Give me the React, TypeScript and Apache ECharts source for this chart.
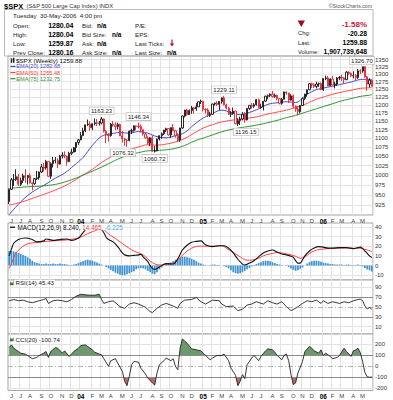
import React, { useEffect, useRef } from 'react';
import * as echarts from 'echarts';

const DAY = 86400000;
const weeks: string[] = [];
for (let i = 0; i < 157; i++) weeks.push(new Date(Date.UTC(2003, 4, 30) + i * 7 * DAY).toISOString().slice(0, 10));
weeks.push('2006-05-30');

// weekly [open, close, low, high]
const ohlc: number[][] = [
  [933.2, 963.6, 927.4, 965.4], [963.6, 987.8, 962.0, 992.6], [987.8, 988.6, 972.0, 1002.7], [988.6, 995.7, 985.0, 1015.3], [995.7, 976.2, 972.0, 1002.5],
  [976.2, 985.7, 972.0, 993.2], [985.7, 998.1, 979.6, 1003.5], [998.1, 993.3, 980.0, 1015.4], [993.3, 998.7, 975.6, 1000.5], [998.7, 980.2, 978.0, 1004.7],
  [980.2, 977.6, 960.8, 980.6], [977.6, 990.7, 975.0, 992.5], [990.7, 993.1, 987.0, 1011.0], [993.1, 1008.0, 987.9, 1009.0], [1008.0, 1021.4, 1005.0, 1029.3],
  [1021.4, 1018.6, 1009.0, 1032.4], [1018.6, 1036.3, 1014.0, 1040.3], [1036.3, 996.9, 995.0, 1036.3], [996.9, 1029.9, 990.4, 1033.8], [1029.9, 1038.7, 1020.0, 1048.3],
  [1038.7, 1039.3, 1031.0, 1048.0], [1039.3, 1028.9, 1018.3, 1044.0], [1028.9, 1050.7, 1028.0, 1054.0], [1050.7, 1053.2, 1044.0, 1061.4], [1053.2, 1050.4, 1045.0, 1063.6],
  [1050.4, 1035.3, 1025.0, 1051.0], [1035.3, 1058.2, 1035.0, 1062.4], [1058.2, 1061.5, 1053.0, 1071.0], [1061.5, 1074.1, 1060.6, 1075.0], [1074.1, 1088.7, 1062.0, 1089.0],
  [1088.7, 1095.9, 1082.0, 1098.5], [1095.9, 1108.5, 1095.0, 1118.8], [1108.5, 1121.9, 1106.0, 1131.0], [1121.9, 1139.8, 1118.0, 1140.0], [1139.8, 1141.6, 1136.0, 1155.4],
  [1141.6, 1131.1, 1122.4, 1150.0], [1131.1, 1142.8, 1124.0, 1143.8], [1142.8, 1145.8, 1138.0, 1158.9], [1145.8, 1144.1, 1136.0, 1157.0], [1144.1, 1144.9, 1137.0, 1151.0],
  [1144.9, 1156.9, 1141.0, 1163.2], [1156.9, 1120.6, 1117.0, 1159.0], [1120.6, 1109.8, 1087.2, 1125.0], [1109.8, 1108.1, 1091.0, 1115.0], [1108.1, 1141.8, 1105.0, 1144.8],
  [1141.8, 1139.3, 1134.0, 1150.6], [1139.3, 1134.6, 1124.0, 1147.0], [1134.6, 1140.6, 1126.0, 1146.0], [1140.6, 1107.3, 1107.0, 1143.0], [1107.3, 1098.7, 1088.0, 1121.0],
  [1098.7, 1095.7, 1079.0, 1102.0], [1095.7, 1093.6, 1076.3, 1098.0], [1093.6, 1120.7, 1092.0, 1123.0], [1120.7, 1122.5, 1113.0, 1128.0], [1122.5, 1136.5, 1120.0, 1138.0],
  [1136.5, 1135.0, 1124.0, 1138.0], [1135.0, 1134.4, 1129.0, 1146.3], [1134.4, 1125.4, 1117.0, 1141.0], [1125.4, 1112.8, 1108.0, 1126.0], [1112.8, 1101.4, 1100.0, 1118.0],
  [1101.4, 1086.2, 1083.0, 1106.0], [1086.2, 1101.7, 1078.0, 1104.0], [1101.7, 1064.0, 1062.0, 1108.0], [1064.0, 1064.8, 1060.7, 1079.0], [1064.8, 1098.4, 1064.0, 1099.0],
  [1098.4, 1107.8, 1094.0, 1109.0], [1107.8, 1113.6, 1099.0, 1117.0], [1113.6, 1123.9, 1110.0, 1125.0], [1123.9, 1128.6, 1118.0, 1131.0], [1128.6, 1110.1, 1108.0, 1129.0],
  [1110.1, 1131.5, 1102.0, 1132.0], [1131.5, 1122.1, 1120.0, 1142.0], [1122.1, 1108.2, 1102.0, 1125.0], [1108.2, 1095.7, 1090.0, 1115.0], [1095.7, 1130.2, 1090.0, 1131.0],
  [1130.2, 1166.2, 1128.0, 1167.0], [1166.2, 1184.2, 1162.0, 1185.0], [1184.2, 1170.3, 1167.0, 1188.0], [1170.3, 1182.7, 1169.0, 1186.0], [1182.7, 1191.2, 1173.0, 1197.0],
  [1191.2, 1188.0, 1173.0, 1194.0], [1188.0, 1194.2, 1182.0, 1206.0], [1194.2, 1210.1, 1194.0, 1211.0], [1210.1, 1211.9, 1203.0, 1217.0], [1211.9, 1186.2, 1180.0, 1212.0],
  [1186.2, 1184.5, 1173.0, 1190.0], [1184.5, 1167.9, 1163.0, 1190.0], [1167.9, 1171.4, 1163.0, 1179.0], [1171.4, 1203.0, 1170.0, 1204.0], [1203.0, 1205.3, 1198.0, 1208.0],
  [1205.3, 1201.6, 1197.0, 1212.0], [1201.6, 1211.4, 1184.0, 1212.0], [1211.4, 1222.1, 1204.0, 1224.0], [1222.1, 1200.1, 1199.0, 1229.1], [1200.1, 1190.2, 1186.0, 1204.0],
  [1190.2, 1171.4, 1169.0, 1194.0], [1171.4, 1172.9, 1163.0, 1181.0], [1172.9, 1181.2, 1170.0, 1192.0], [1181.2, 1142.6, 1141.0, 1182.0], [1142.6, 1152.1, 1136.2, 1159.0],
  [1152.1, 1156.9, 1139.0, 1164.0], [1156.9, 1171.4, 1153.0, 1178.0], [1171.4, 1154.1, 1146.0, 1178.0], [1154.1, 1189.3, 1153.0, 1191.0], [1189.3, 1198.8, 1185.0, 1199.0],
  [1198.8, 1196.0, 1188.0, 1206.0], [1196.0, 1200.9, 1191.0, 1206.0], [1200.9, 1217.0, 1198.0, 1219.0], [1217.0, 1191.6, 1191.0, 1220.0], [1191.6, 1194.4, 1188.0, 1204.0],
  [1194.4, 1211.9, 1183.0, 1212.0], [1211.9, 1227.9, 1210.0, 1229.0], [1227.9, 1229.4, 1218.0, 1233.0], [1229.4, 1234.2, 1225.0, 1237.0], [1234.2, 1226.4, 1223.0, 1245.0],
  [1226.4, 1230.4, 1223.0, 1236.0], [1230.4, 1219.7, 1215.0, 1233.0], [1219.7, 1205.1, 1202.0, 1222.0], [1205.1, 1218.0, 1201.0, 1222.0], [1218.0, 1241.5, 1217.0, 1242.0],
  [1241.5, 1237.9, 1232.0, 1243.0], [1237.9, 1215.3, 1206.0, 1238.0], [1215.3, 1228.8, 1214.0, 1234.0], [1228.8, 1195.9, 1191.0, 1233.0], [1195.9, 1186.6, 1179.0, 1198.0],
  [1186.6, 1179.6, 1168.0, 1197.0], [1179.6, 1198.4, 1174.0, 1200.0], [1198.4, 1220.1, 1198.0, 1224.0], [1220.1, 1234.7, 1215.0, 1235.0], [1234.7, 1248.3, 1226.0, 1249.0],
  [1248.3, 1268.3, 1248.0, 1270.0], [1268.3, 1265.1, 1255.0, 1272.0], [1265.1, 1259.4, 1254.0, 1270.0], [1259.4, 1267.3, 1253.0, 1275.0], [1267.3, 1268.7, 1258.0, 1272.0],
  [1268.7, 1248.3, 1248.0, 1273.0], [1248.3, 1285.5, 1245.0, 1286.0], [1285.5, 1287.6, 1280.0, 1295.0], [1287.6, 1261.5, 1261.0, 1294.0], [1261.5, 1283.7, 1261.0, 1286.0],
  [1283.7, 1264.0, 1262.0, 1294.0], [1264.0, 1267.0, 1253.0, 1275.0], [1267.0, 1287.2, 1261.0, 1290.0], [1287.2, 1289.4, 1280.0, 1294.0], [1289.4, 1287.2, 1278.0, 1298.0],
  [1287.2, 1281.4, 1268.0, 1290.0], [1281.4, 1307.3, 1281.0, 1310.0], [1307.3, 1303.0, 1298.0, 1310.0], [1303.0, 1294.8, 1291.0, 1306.0], [1294.8, 1295.5, 1286.0, 1310.0],
  [1295.5, 1289.1, 1280.0, 1301.0], [1289.1, 1311.3, 1284.0, 1318.0], [1311.3, 1310.6, 1301.0, 1317.0], [1310.6, 1325.8, 1305.0, 1326.1], [1325.8, 1291.2, 1288.0, 1326.7],
  [1291.2, 1267.0, 1245.0, 1294.0], [1267.0, 1280.2, 1256.0, 1286.0], [1280.04, 1259.88, 1259.87, 1280.04],
];

// EMA readings [week index, value]
const ema20: number[][] = [[0, 902], [4, 927], [8, 948], [12, 964], [16, 977], [20, 992], [24, 1005], [28, 1025], [32, 1047], [36, 1080], [40, 1106], [44, 1113], [48, 1117], [52, 1115], [56, 1120], [60, 1115], [64, 1105], [68, 1102], [72, 1108], [76, 1117], [80, 1140], [84, 1160], [88, 1174], [92, 1184], [96, 1177], [100, 1170], [104, 1177], [108, 1188], [112, 1202], [116, 1207], [120, 1210], [124, 1208], [128, 1228], [132, 1246], [136, 1254], [140, 1260], [144, 1267], [148, 1274], [152, 1282], [156, 1283], [157, 1282.68]];
const ema50: number[][] = [[0, 925], [4, 930], [8, 937], [12, 945], [16, 953], [20, 962], [24, 972], [28, 985], [32, 1000], [36, 1015], [40, 1033], [44, 1048], [48, 1060], [52, 1068], [56, 1076], [60, 1082], [64, 1081], [68, 1084], [72, 1090], [76, 1100], [80, 1115], [84, 1130], [88, 1140], [92, 1148], [96, 1153], [100, 1157], [104, 1160], [108, 1165], [112, 1172], [116, 1178], [120, 1184], [124, 1192], [128, 1202], [132, 1215], [136, 1225], [140, 1234], [144, 1241], [148, 1247], [152, 1253], [156, 1255], [157, 1255.48]];
const ema75: number[][] = [[0, 966], [4, 968], [8, 970], [12, 971], [16, 973], [20, 976], [24, 982], [28, 990], [32, 1000], [36, 1010], [40, 1021], [44, 1033], [48, 1045], [52, 1054], [56, 1060], [60, 1065], [64, 1066], [68, 1068], [72, 1072], [76, 1080], [80, 1092], [84, 1101], [88, 1110], [92, 1119], [96, 1126], [100, 1131], [104, 1135], [108, 1140], [112, 1146], [116, 1153], [120, 1161], [124, 1168], [128, 1177], [132, 1186], [136, 1195], [140, 1204], [144, 1213], [148, 1220], [152, 1227], [156, 1231], [157, 1232.75]];

const extremes: [number, number, string][] = [
  [40, 1163.23, 'high'], [51, 1076.32, 'low'], [56, 1146.34, 'high'], [63, 1060.72, 'low'],
  [93, 1229.11, 'high'], [99, 1136.15, 'low'], [154, 1326.70, 'high'],
];
const priceTicks = [1350, 1325, 1300, 1275, 1250, 1225, 1200, 1175, 1150, 1125, 1100, 1075, 1050, 1025, 1000, 975, 950, 925];

const macdLine: number[][] = [[0, 10], [1, 17], [2, 23], [4, 27], [7, 28.5], [10, 27], [12, 24.5], [15, 25.5], [16, 27.5], [19, 26], [22, 27], [25, 27.5], [27, 26], [30, 28.5], [31, 31], [32, 34], [33, 37], [34, 39], [36, 40.5], [38, 39.5], [40, 37], [41, 34], [42, 29], [43, 27], [45, 24.5], [47, 19.5], [49, 13], [50, 11], [52, 10], [54, 10.5], [56, 11], [57, 11.5], [58, 9], [60, 4], [61, 0], [62, -3], [63, -4], [64, -3], [65, -1.5], [68, 2], [71, 1.5], [73, 7], [75, 16], [77, 21], [79, 24], [81, 25], [83, 25.5], [85, 21.5], [88, 19.5], [91, 20.5], [93, 20.5], [95, 18], [97, 13], [99, 6.5], [101, 1.5], [102, 0.5], [104, 2.5], [106, 5], [108, 9], [110, 13], [112, 15], [114, 16], [116, 14], [118, 12], [120, 11], [122, 9.5], [123, 8.5], [124, 5], [125, 2.5], [126, 2.5], [127, 6], [128, 10], [130, 15], [132, 18], [134, 19.5], [136, 19], [138, 18], [140, 18], [143, 18.5], [146, 18.5], [149, 17.5], [151, 18.5], [152, 19], [153, 17.5], [154, 15], [155, 12.5], [156, 10], [157, 8.24]];
const macdSignal: number[][] = [[0, -3], [1, 2], [2, 8], [3, 13], [5, 18], [7, 21.5], [9, 23], [11, 23.7], [14, 24.5], [18, 25.3], [22, 26], [25, 26.5], [28, 27.5], [30, 28.5], [32, 30.5], [34, 33], [36, 35], [38, 36.7], [40, 37.5], [41, 37], [42, 35], [44, 31], [46, 28], [48, 24.5], [50, 21], [52, 17.8], [54, 15], [56, 13], [58, 11], [60, 7], [61, 4.5], [62, 3], [64, 0.8], [66, 0.5], [68, 1], [70, 2], [72, 4], [74, 8], [76, 13], [78, 16.5], [80, 19], [82, 20], [84, 20], [86, 20], [88, 20], [90, 20.5], [92, 20.5], [94, 18], [96, 15], [98, 12], [100, 9], [102, 6], [104, 5.5], [106, 6], [108, 7.5], [110, 10], [112, 11.5], [114, 12.5], [116, 13.5], [118, 13], [120, 12], [122, 11], [124, 9.5], [126, 7.5], [128, 9], [130, 12.5], [132, 15], [134, 16.5], [136, 17], [138, 17.5], [140, 17.8], [143, 18], [146, 18.2], [149, 17.8], [151, 18], [153, 17.5], [155, 16], [157, 14.465]];
const macdHist: number[] = [
  15, 15, 14.5, 14, 13, 12, 11, 10, 8.5, 7,
  5, 3.5, 2.5, 2, 1.5, 1.5, 2, 1.5, 1.5, 2,
  1.5, 1.5, 2, 1.5, 1.5, 1, 0.5, 0.5, 1, 1.5,
  2.5, 3.5, 4.5, 5.5, 6, 5.5, 5, 4, 3, 2,
  1, 0, -1.5, -3, -4.5, -6, -7.5, -8.5, -9.5, -10,
  -10, -9, -8, -7, -6, -4, -3, -2.5, -3, -4,
  -5.5, -7, -8.5, -9, -7, -4, -2, 0, 1, 2,
  3, 4.5, 6, 7, 8, 9, 9, 8.5, 8, 7,
  6, 4.5, 3, 2, 1, 0.5, 0, 0.5, 1, 1,
  0.5, 0.5, 0, -0.5, -1.5, -3, -5, -7, -8, -8.5,
  -8, -7, -5.5, -4, -2.5, -1, 0.5, 1.5, 2.5, 3.5,
  4.5, 5, 5, 4.5, 3.5, 2.5, 1.5, 1, 0.5, 0,
  -0.5, -1.5, -3, -4.5, -5.5, -5, -3.5, -2, 0, 2,
  3.5, 4.5, 5, 5, 4.5, 4, 3, 2.5, 2, 1.5,
  1.5, 1, 1, 1, 1, 0.5, 1, 1, 0.5, 0.5,
  0.5, 1, 0.5, -1, -2.5, -4, -5, -6.225,
];
const macdTicks = [40, 30, 20, 10, 0, -10];

const rsi: number[][] = [[0, 62.7], [2, 65.3], [4, 62.7], [6, 64], [8, 60.7], [10, 58.7], [13, 62.7], [15, 65.3], [16, 67.3], [17, 57.3], [19, 62.7], [21, 64], [23, 62.7], [25, 60.7], [27, 65.3], [29, 72], [31, 76], [33, 74.7], [35, 74], [37, 74], [39, 76], [40, 65.3], [41, 57.3], [43, 60.7], [45, 62.7], [48, 50.7], [50, 47.3], [52, 56], [54, 58.7], [56, 56], [59, 49.3], [61, 40.7], [62, 38.7], [64, 47.3], [66, 54], [68, 57.3], [71, 52], [73, 47.3], [74, 57.3], [76, 64], [79, 65.3], [81, 69.3], [83, 60.7], [85, 56], [88, 64], [91, 62.7], [92, 56], [94, 50.7], [97, 52], [99, 42.7], [101, 45.3], [103, 54], [105, 56], [107, 60.7], [110, 56], [112, 62.7], [114, 58.7], [116, 56], [118, 60.7], [120, 50.7], [122, 42.7], [124, 47.3], [127, 57.3], [129, 62.7], [131, 60.7], [133, 64], [135, 57.3], [136, 62.7], [138, 57.3], [140, 60.7], [143, 57.3], [145, 60.7], [147, 58.7], [149, 62.7], [151, 65.3], [152, 66], [153, 63], [154, 52], [155, 46], [156, 49], [157, 45.43]];

const cci: number[][] = [[0, 167], [1, 191], [2, 161], [4, 131], [5, 116], [7, 107], [8, 95], [10, 65], [12, 77], [13, 95], [15, 116], [16, 131], [17, 77], [18, 131], [20, 167], [21, 161], [23, 116], [24, 137], [26, 86], [27, 107], [28, 131], [30, 161], [31, 185], [33, 191], [34, 176], [36, 146], [37, 125], [39, 107], [40, 101], [41, 65], [43, -4], [44, 47], [46, 65], [47, 26], [49, -50], [50, -140], [51, -180], [52, -95], [53, 10], [54, 40], [56, 34], [57, -20], [59, -74], [60, -110], [62, -155], [63, -175], [64, -65], [65, 10], [67, 47], [68, 71], [70, 47], [71, 65], [72, -4], [73, -35], [74, 161], [75, 245], [77, 206], [79, 155], [81, 146], [83, 137], [85, 95], [87, 56], [88, 71], [90, 95], [92, 95], [93, 107], [95, 47], [96, -20], [98, -86], [99, -180], [100, -140], [101, -80], [102, -116], [103, 10], [105, 71], [106, 95], [108, 47], [109, 86], [111, 137], [112, 155], [114, 146], [115, 125], [116, 95], [118, 56], [119, 95], [120, 107], [121, 47], [122, -80], [123, -170], [124, -155], [125, -65], [127, 40], [128, 131], [130, 176], [131, 161], [132, 137], [134, 116], [135, 146], [136, 95], [137, 116], [139, 86], [140, 65], [142, 77], [143, 95], [145, 161], [146, 131], [148, 86], [149, 137], [150, 146], [151, 161], [152, 120], [153, 40], [154, -60], [155, -100], [156, -104], [157, -100.74]];

const FONT = '"Liberation Sans", Arial, sans-serif';
const RED = '#e3202e';
const GRIDLINE = '#e3e3e3';
const LEFT = 8;
const RIGHT = 20;
const panels = [
  { top: 56, height: 159 },
  { top: 223, height: 57 },
  { top: 280, height: 54 },
  { top: 334, height: 57 },
];
const labelShift: Record<number, number> = { 51: -4, 99: 8, 154: -3 };

const isMonthStart = (i: number) => i > 0 && weeks[i].slice(5, 7) !== weeks[i - 1].slice(5, 7);
const monthLabel = (v: string) => {
  const m = +v.slice(5, 7) - 1;
  return m === 0 ? `{y|${v.slice(2, 4)}}` : 'JFMAMJJASOND'[m];
};

function gridMarkLine(ticks: number[], color: string, z = 1) {
  return {
    silent: true,
    symbol: ['none', 'none'],
    z,
    animation: false,
    label: { show: true, position: 'end', distance: 2, fontSize: 6, color: '#333', fontFamily: FONT, formatter: '{b}' },
    lineStyle: { color, type: 'solid', width: 1 },
    data: ticks.map((v) => ({ name: String(v), yAxis: v })),
  };
}

function helper(k: number, y: number, ticks: number[]) {
  return {
    type: 'line', xAxisIndex: k, yAxisIndex: k, data: [[0, y]], symbol: 'none', silent: true,
    lineStyle: { opacity: 0 }, z: 0, markLine: gridMarkLine(ticks, GRIDLINE),
  };
}

function buildOption() {
  const candles = ohlc.map((d, i) => {
    const prev = i > 0 ? ohlc[i - 1][1] : d[0];
    const c = d[1] < prev ? RED : '#111';
    return { value: d, itemStyle: { color: '#ffffff', color0: c, borderColor: c, borderColor0: c, borderWidth: 0.9 } };
  });

  const txt = (x: number, y: number, text: string, o: any = {}) => {
    const style: any = {
      text, fontSize: o.size ?? 6.2, fontWeight: o.bold ? 'bold' : 'normal', fontFamily: FONT,
      fill: o.color ?? '#222', align: o.align ?? 'left', verticalAlign: 'middle',
    };
    if (o.bg) { style.backgroundColor = o.bg; style.padding = [0, 1]; }
    if (o.rich) style.rich = o.rich;
    return { type: 'text', x, y, z: 100, silent: true, style };
  };
  const hline = (x1: number, x2: number, y: number, color: string) => ({
    type: 'line', z: 100, silent: true, shape: { x1, y1: y, x2, y2: y }, style: { stroke: color, lineWidth: 1.2 },
  });

  const rows = [25, 34, 43, 52];
  const val = { bold: true, size: 7, align: 'right', color: '#000' };
  const na = { bold: true, size: 6.5, color: '#000' };
  const graphic: any[] = [
    txt(4, 6, '$SPX', { bold: true, size: 7.5, color: '#000' }),
    txt(26.5, 6.3, '(S&P 500 Large Cap Index) INDX', { size: 5.8, color: '#333' }),
    txt(372, 5.8, '\u00A9StockCharts.com', { size: 5.2, color: '#555', align: 'right' }),
    { type: 'rect', z: 99, silent: true, shape: { x: 4.5, y: 9.5, width: 368.5, height: 46.5 }, style: { fill: 'none', stroke: '#b8b8b8', lineWidth: 1 } },
    txt(13, 15.5, 'Tuesday  30-May-2006  4:00 pm', { size: 6.2 }),
    txt(13, rows[0], 'Open:'), txt(13, rows[1], 'High:'), txt(13, rows[2], 'Low:'), txt(13, rows[3], 'Prev Close:'),
    txt(73.5, rows[0], '1280.04', val), txt(73.5, rows[1], '1280.04', val),
    txt(73.5, rows[2], '1259.87', val), txt(73.5, rows[3], '1280.16', val),
    txt(82, rows[0], 'Bid:'), txt(82, rows[1], 'Bid Size:'), txt(82, rows[2], 'Ask:'), txt(82, rows[3], 'Ask Size:'),
    txt(97, rows[0], 'n/a', na), txt(112, rows[1], 'n/a', na), txt(97, rows[2], 'n/a', na), txt(112, rows[3], 'n/a', na),
    txt(135, rows[0], 'P/E:'), txt(135, rows[1], 'EPS:'), txt(135, rows[2], 'Last Ticks:'), txt(135, rows[3], 'Last Size:'),
    txt(167, rows[3], 'n/a', na),
    { type: 'line', z: 100, silent: true, shape: { x1: 172, y1: 39.5, x2: 172, y2: 45 }, style: { stroke: '#c0102a', lineWidth: 1.2 } },
    { type: 'polygon', z: 100, silent: true, shape: { points: [[169.8, 43.5], [174.2, 43.5], [172, 46.5]] }, style: { fill: '#c0102a' } },
    { type: 'polygon', z: 100, silent: true, shape: { points: [[297.6, 20.6], [305, 20.6], [301.3, 27]] }, style: { fill: '#9c0f26' } },
    txt(367, 24, '-1.58%', { bold: true, size: 8, align: 'right', color: '#c8143c' }),
    txt(298, 33.3, 'Chg:', { size: 5.8 }), txt(367, 33.3, '-20.28', { ...val, size: 6.8 }),
    txt(298, 42.5, 'Last:', { size: 5.8 }), txt(367, 42.5, '1259.88', { ...val, size: 6.8 }),
    txt(298, 51.8, 'Volume:', { size: 5.8 }), txt(367, 51.8, '1,907,739,648', { ...val, size: 6.8 }),
    { type: 'rect', z: 100, silent: true, shape: { x: 10.8, y: 58.3, width: 1.5, height: 4.5 }, style: { fill: '#222' } },
    { type: 'rect', z: 100, silent: true, shape: { x: 13, y: 57.8, width: 1.5, height: 5 }, style: { fill: '#222' } },
    txt(16, 60.5, '$SPX (Weekly) 1259.88', { size: 6.2, color: '#111' }),
    hline(10.5, 15.5, 66.4, '#4646c8'), txt(16.3, 66.4, 'EMA(20) 1282.68', { size: 5.6, color: '#4646c8' }),
    hline(10.5, 15.5, 72.5, '#ff3b3b'), txt(16.3, 72.5, 'EMA(50) 1255.48', { size: 5.6, color: '#ff3b3b' }),
    hline(10.5, 15.5, 78.7, '#2f932f'), txt(16.3, 78.7, 'EMA(75) 1232.75', { size: 5.6, color: '#2f932f' }),
    hline(10, 15, 227.2, '#000'),
    txt(16.5, 227.2, '{k|MACD(12,26,9) 8.240,} {r|14.465,} {b|-6.225}', {
      size: 6.3, bg: '#fff',
      rich: { k: { fill: '#000', fontSize: 6.3, fontFamily: FONT }, r: { fill: '#f03535', fontSize: 6.3, fontFamily: FONT }, b: { fill: '#3d9fe0', fontSize: 6.3, fontFamily: FONT } },
    }),
    { type: 'polygon', z: 100, silent: true, shape: { points: [[9.6, 285.2], [10.8, 281.2], [12, 283.4], [13.6, 280.8], [13.6, 285.2]] }, style: { fill: '#3f6f3f' } },
    txt(14.5, 282.8, 'RSI(14) 45.43', { size: 6.2, bg: '#fff' }),
    { type: 'polygon', z: 100, silent: true, shape: { points: [[9.6, 341.3], [10.8, 337.3], [12, 339.5], [13.6, 336.9], [13.6, 341.3]] }, style: { fill: '#3f6f3f' } },
    txt(14.5, 339, 'CCI(20) -100.74', { size: 6.2, bg: '#fff' }),
  ];

  const xAxis = panels.map((_, k) => ({
    type: 'category', gridIndex: k, data: weeks, boundaryGap: true,
    axisLine: { show: false }, axisTick: { show: false },
    axisLabel: k === 0 || k === 3
      ? {
        show: true, interval: (i: number) => isMonthStart(i), formatter: monthLabel, fontSize: 6, color: '#444', margin: 2.5, fontFamily: FONT,
        rich: { y: { fontWeight: 'bold', fontSize: 6.5, color: '#000', fontFamily: FONT } },
      }
      : { show: false },
    splitLine: { show: true, interval: (i: number) => isMonthStart(i), lineStyle: { color: GRIDLINE, width: 1 } },
  }));

  const hiddenY = { position: 'right', axisLabel: { show: false }, splitLine: { show: false }, axisLine: { show: false }, axisTick: { show: false } };
  const yAxis = [
    { ...hiddenY, type: 'log', logBase: 10, gridIndex: 0, min: 901.3, max: 1363.1 },
    { ...hiddenY, type: 'value', gridIndex: 1, min: -15, max: 44 },
    { ...hiddenY, type: 'value', gridIndex: 2, min: -5, max: 105 },
    { ...hiddenY, type: 'value', gridIndex: 3, min: -224, max: 290 },
  ];

  const emaLine = (data: number[][], color: string) => ({
    type: 'line', xAxisIndex: 0, yAxisIndex: 0, data, symbol: 'none', smooth: 0.4, silent: true, z: 2,
    lineStyle: { color, width: 1 },
  });

  const dashDot = { color: '#b5b5b5', type: [5, 2, 1, 2], width: 1 };
  const dark = { color: '#8a8a8a', type: 'solid', width: 1 };

  const series: any[] = [
    {
      type: 'candlestick', xAxisIndex: 0, yAxisIndex: 0, data: candles, barWidth: 1.7, z: 3, silent: true,
      markPoint: {
        silent: true, symbol: 'circle', symbolSize: 1, itemStyle: { color: 'rgba(0,0,0,0)' },
        label: {
          show: true, fontSize: 6, fontFamily: FONT, color: '#222', backgroundColor: '#fff',
          borderColor: '#b0b0b0', borderWidth: 0.6, padding: [1, 1.5, 0, 1.5], distance: 2,
        },
        data: extremes.map(([i, v, kind]) => ({
          coord: [i, v], value: v,
          label: { position: kind === 'high' ? 'top' : 'bottom', formatter: v.toFixed(2), offset: [labelShift[i] ?? 0, 0] },
        })),
      },
    },
    emaLine(ema20, '#4646c8'),
    emaLine(ema50, '#ff4a4a'),
    emaLine(ema75, '#2f932f'),
    helper(0, 1000, priceTicks),
    helper(1, 0, macdTicks),
    {
      type: 'bar', xAxisIndex: 1, yAxisIndex: 1, data: macdHist, barCategoryGap: '25%', silent: true, z: 2,
      itemStyle: { color: '#3f93d3' },
    },
    { type: 'line', xAxisIndex: 1, yAxisIndex: 1, data: macdSignal, symbol: 'none', smooth: 0.35, silent: true, z: 3, lineStyle: { color: '#ff4040', width: 1 } },
    { type: 'line', xAxisIndex: 1, yAxisIndex: 1, data: macdLine, symbol: 'none', smooth: 0.35, silent: true, z: 4, lineStyle: { color: '#111', width: 1.1 } },
    helper(2, 50, [90, 10]),
  ];
  const rsiFillIndex = series.length;
  series.push({
    type: 'line', xAxisIndex: 2, yAxisIndex: 2, data: rsi, symbol: 'none', silent: true, z: 2,
    lineStyle: { width: 0, opacity: 0 }, areaStyle: { origin: 'start', opacity: 0.9 },
  });
  series.push({
    type: 'line', xAxisIndex: 2, yAxisIndex: 2, data: rsi, symbol: 'none', silent: true, z: 4,
    lineStyle: { color: '#222', width: 0.9 },
    markLine: {
      ...gridMarkLine([], '#8a8a8a', 3),
      data: [
        { name: '70', yAxis: 70, lineStyle: dark }, { name: '30', yAxis: 30, lineStyle: dark },
        { name: '50', yAxis: 50, lineStyle: dashDot },
      ],
    },
  });
  series.push(helper(3, 0, [200, -200]));
  const cciGreenIndex = series.length;
  series.push({
    type: 'line', xAxisIndex: 3, yAxisIndex: 3, data: cci, symbol: 'none', silent: true, z: 2,
    lineStyle: { width: 0, opacity: 0 }, areaStyle: { origin: 'start', opacity: 0.9 },
  });
  const cciRedIndex = series.length;
  series.push({
    type: 'line', xAxisIndex: 3, yAxisIndex: 3, data: cci, symbol: 'none', silent: true, z: 2,
    lineStyle: { width: 0, opacity: 0 }, areaStyle: { origin: 'end', opacity: 0.9 },
  });
  series.push({
    type: 'line', xAxisIndex: 3, yAxisIndex: 3, data: cci, symbol: 'none', silent: true, z: 4,
    lineStyle: { color: '#222', width: 0.9 },
    markLine: {
      ...gridMarkLine([], '#8a8a8a', 3),
      data: [
        { name: '100', yAxis: 100, lineStyle: dark }, { name: '-100', yAxis: -100, lineStyle: dark },
        { name: '0', yAxis: 0, lineStyle: dashDot },
      ],
    },
  });

  const clear = 'rgba(255,255,255,0)';
  const visualMap = [
    { type: 'piecewise', show: false, seriesIndex: rsiFillIndex, dimension: 1, pieces: [{ gt: 70, lte: 1000, color: '#5d8f5d' }, { gte: -1000, lte: 70, color: clear }], outOfRange: { color: clear } },
    { type: 'piecewise', show: false, seriesIndex: cciGreenIndex, dimension: 1, pieces: [{ gt: 100, lte: 5000, color: '#5d8f5d' }, { gte: -5000, lte: 100, color: clear }], outOfRange: { color: clear } },
    { type: 'piecewise', show: false, seriesIndex: cciRedIndex, dimension: 1, pieces: [{ gte: -5000, lt: -100, color: '#b05a5a' }, { gte: -100, lte: 5000, color: clear }], outOfRange: { color: clear } },
  ];

  return {
    animation: false,
    backgroundColor: '#ffffff',
    textStyle: { fontFamily: FONT },
    grid: panels.map((p) => ({ left: LEFT, right: RIGHT, top: p.top, height: p.height, show: true, borderColor: '#a3a3a3', borderWidth: 1, backgroundColor: '#fff' })),
    xAxis,
    yAxis,
    visualMap,
    series,
    graphic,
  };
}

export default function App() {
  const ref = useRef<HTMLDivElement>(null);
  useEffect(() => {
    if (!ref.current) return;
    const chart = echarts.init(ref.current, undefined, { renderer: 'svg' });
    chart.setOption(buildOption() as any);
    return () => chart.dispose();
  }, []);
  return <div ref={ref} style={{ position: 'fixed', left: 0, top: 0, width: 393, height: 400, background: '#fff' }} />;
}
